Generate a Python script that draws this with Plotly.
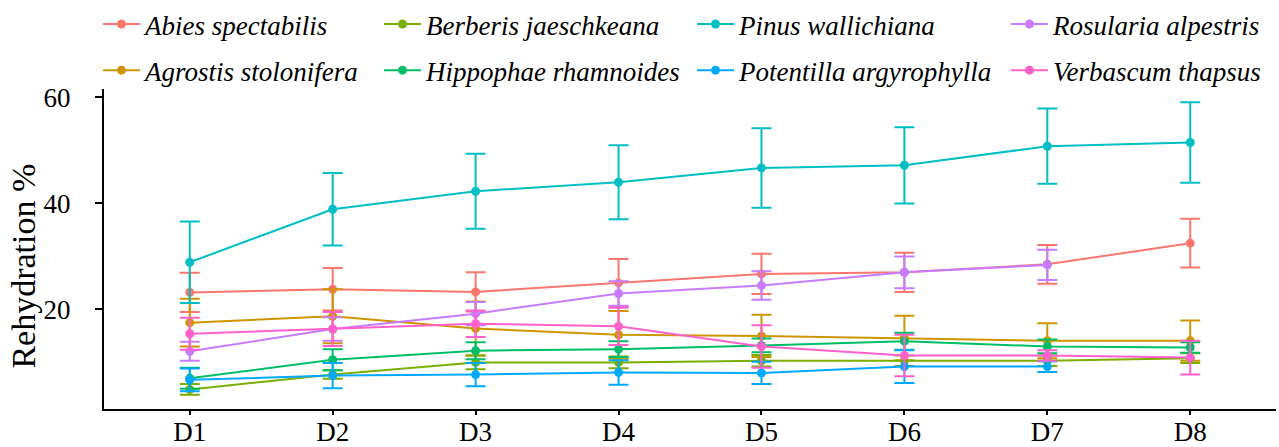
import plotly.graph_objects as go

days = ["D1", "D2", "D3", "D4", "D5", "D6", "D7", "D8"]

abies = [23.2, 23.8, 23.3, 25.0, 26.7, 27.0, 28.5, 32.5]
abies_sd = [3.7, 4.0, 3.7, 4.5, 3.8, 3.7, 3.65, 4.6]
agrostis = [17.5, 18.7, 16.4, 15.2, 15.0, 14.6, 14.1, 14.1]
agrostis_sd = [4.5, 5.1, 5.1, 4.5, 4.0, 4.2, 3.3, 3.8]
berberis = [4.9, 7.7, 10.0, 10.0, 10.3, 10.3, 10.3, 10.8]
berberis_sd = [1.0, 0.8, 1.3, 1.1, 1.1, 1.0, 1.0, 0.9]
hippophae = [7.0, 10.5, 12.2, 12.5, 13.2, 14.0, 13.0, 12.8]
hippophae_sd = [2.0, 2.0, 1.6, 1.5, 1.3, 1.6, 1.3, 1.0]
pinus = [28.9, 38.9, 42.3, 44.0, 46.7, 47.2, 50.8, 51.5]
pinus_sd = [7.7, 6.85, 7.1, 7.0, 7.5, 7.2, 7.1, 7.6]
potentilla = [6.7, 7.5, 7.7, 8.1, 8.0, 9.2, 9.2, None]
potentilla_sd = [2.15, 2.4, 2.2, 2.3, 2.1, 3.1, 1.0, None]
rosularia = [12.1, 16.3, 19.2, 23.0, 24.5, 27.0, 28.4, None]
rosularia_sd = [1.8, 2.2, 2.2, 2.3, 2.7, 3.0, 2.85, None]
verbascum = [15.4, 16.3, 17.3, 16.8, 13.0, 11.3, 11.3, 10.9]
verbascum_sd = [3.0, 3.2, 2.5, 3.5, 4.0, 3.9, 1.0, 3.2]

species = [
    ("Abies spectabilis", abies, abies_sd, "#F8766D", "legend"),
    ("Agrostis stolonifera", agrostis, agrostis_sd, "#CD9600", "legend"),
    ("Berberis jaeschkeana", berberis, berberis_sd, "#7CAE00", "legend2"),
    ("Hippophae rhamnoides", hippophae, hippophae_sd, "#00BE67", "legend2"),
    ("Pinus wallichiana", pinus, pinus_sd, "#00BFC4", "legend3"),
    ("Potentilla argyrophylla", potentilla, potentilla_sd, "#00A9FF", "legend3"),
    ("Rosularia alpestris", rosularia, rosularia_sd, "#C77CFF", "legend4"),
    ("Verbascum thapsus", verbascum, verbascum_sd, "#FF61CC", "legend4"),
]

FONT = "Liberation Serif"
L, R, T, B = 104, 3, 89, 38
W, H = 1279, 447
PW = W - L - R
PH = H - T - B

fig = go.Figure()
for name, vals, sd, color, leg in species:
    fig.add_trace(go.Scatter(
        x=days, y=vals, name=name, mode="lines+markers",
        line=dict(color=color, width=2),
        marker=dict(color=color, size=9),
        error_y=dict(type="data", array=sd, visible=True, color=color,
                     thickness=2, width=10),
        legend=leg, legendgroup=name,
    ))

leg_common = dict(
    orientation="v", xanchor="left", yanchor="top",
    font=dict(family=FONT, size=27, color="black", style="italic"),
    bgcolor="rgba(0,0,0,0)", tracegroupgap=8, itemwidth=37,
)
leg_x = [98, 379, 692, 1006]
ly = (H - B) / PH
fig.update_layout(
    legend=dict(x=(leg_x[0] - L) / PW, y=ly, **leg_common),
    legend2=dict(x=(leg_x[1] - L) / PW, y=ly, **leg_common),
    legend3=dict(x=(leg_x[2] - L) / PW, y=ly, **leg_common),
    legend4=dict(x=(leg_x[3] - L) / PW, y=ly, **leg_common),
)

fig.update_layout(
    width=W, height=H,
    margin=dict(l=L, r=R, t=T, b=B, autoexpand=False),
    paper_bgcolor="white", plot_bgcolor="white",
    font=dict(family=FONT, size=27, color="black"),
    showlegend=True,
    xaxis=dict(
        type="category", categoryorder="array", categoryarray=days,
        range=[-0.6, 7.6], showgrid=False, zeroline=False,
        showline=True, linecolor="black", linewidth=2,
        ticks="outside", ticklen=4, tickwidth=1.5, tickcolor="black",
        tickfont=dict(family=FONT, size=27, color="black"),
        ticklabelstandoff=-6,
    ),
    yaxis=dict(
        range=[1.2, 61.6], tickvals=[20, 40, 60], showgrid=False,
        zeroline=False, showline=True, linecolor="black", linewidth=2,
        ticks="outside", ticklen=7, tickwidth=1.5, tickcolor="black",
        tickfont=dict(family=FONT, size=27, color="black"),
        ticklabelstandoff=19,
    ),
    annotations=[dict(
        text="Rehydration %", textangle=-90, xref="paper", yref="paper",
        x=0, y=0.445, xanchor="center", yanchor="middle", xshift=-80,
        showarrow=False, font=dict(family=FONT, size=34, color="black"),
    )],
)

fig.write_html("out.html", config={"displayModeBar": False},
               post_script="document.body.style.margin='0';")
